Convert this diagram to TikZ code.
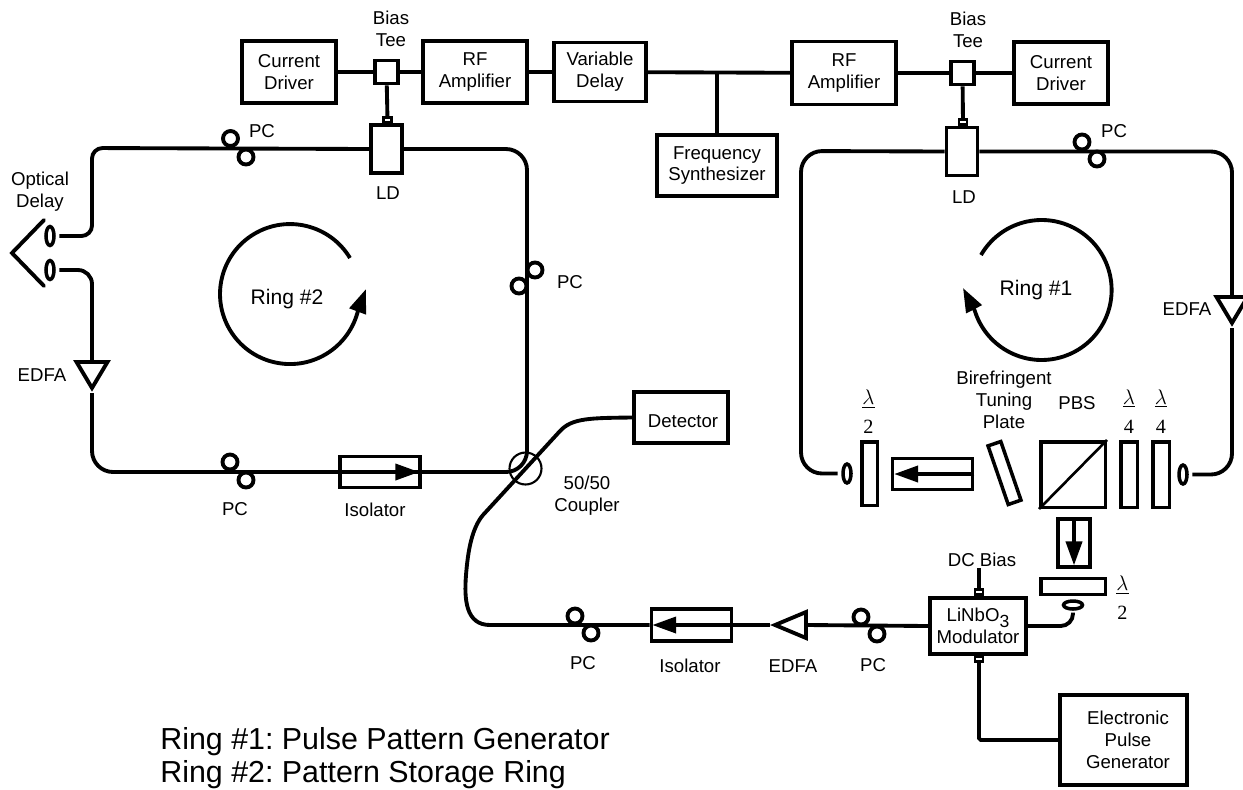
\documentclass[tikz,border=0pt]{standalone}
\usepackage{fontspec}
\setmainfont{Liberation Sans}
\newfontfamily\platefont{Liberation Serif}
\usetikzlibrary{arrows.meta, positioning, shapes.geometric}

\begin{document}
\begin{tikzpicture}[
  x=0.02cm, y=-0.02cm,
  blockbox/.style={draw, line width=2.2pt, inner sep=0pt, align=center, font=\fontsize{10.6}{12.4}\selectfont},
  plate/.style={draw, line width=2pt, inner sep=0pt},
  lab/.style={inner sep=0pt, align=center, font=\fontsize{10.6}{12.4}\selectfont},
  platelab/.style={inner sep=0pt, align=center, font=\platefont\fontsize{11.5}{16.5}\selectfont},
  ringlab/.style={inner sep=0pt, font=\fontsize{12}{14}\selectfont},
  pcloop/.style={draw, circle, line width=2.2pt, inner sep=0pt, minimum size=0.3cm},
  lensv/.style={draw, ellipse, line width=2pt, inner sep=0pt, minimum width=0.16cm, minimum height=0.38cm},
  lensh/.style={draw, ellipse, line width=2pt, inner sep=0pt, minimum width=0.38cm, minimum height=0.16cm},
  edfa/.style={draw, isosceles triangle, isosceles triangle stretches, line width=2.2pt, inner sep=0pt,
    minimum width=0.62cm, minimum height=0.52cm},
  edfaleft/.style={edfa, shape border rotate=180, minimum width=0.52cm, minimum height=0.62cm},
  tabbox/.style={draw, line width=1.6pt, inner sep=0pt, minimum width=0.16cm, minimum height=0.1cm},
  wire/.style={line width=2.2pt},
  fiber/.style={line width=2.2pt, rounded corners=12pt},
  beam/.style={line width=2.2pt, -{Triangle[length=0.48cm, width=0.32cm]}},
  ringarrow/.style={line width=2.2pt, -{Triangle[length=0.48cm, width=0.34cm]}},
]
\useasboundingbox (0,0) rectangle (1243,789);

% Electronics along the top
\node[blockbox, minimum width=1.88cm, minimum height=1.24cm] (driverA) at (289,72) {Current\\Driver};
\node[blockbox, minimum width=0.46cm, minimum height=0.46cm] (teeA) at (386.5,72) {};
\node[blockbox, minimum width=2.08cm, minimum height=1.24cm] (ampA) at (475,72) {RF\\Amplifier};
\node[blockbox, minimum width=1.84cm, minimum height=1.18cm] (delay) at (600,72) {Variable\\Delay};
\node[blockbox, minimum width=2.08cm, minimum height=1.26cm] (ampB) at (844,73) {RF\\Amplifier};
\node[blockbox, minimum width=0.46cm, minimum height=0.46cm] (teeB) at (962.5,73) {};
\node[blockbox, minimum width=1.88cm, minimum height=1.24cm] (driverB) at (1061,73) {Current\\Driver};
\node[blockbox, minimum width=2.4cm, minimum height=1.22cm] (synth) at (717,165.5) {Frequency\\Synthesizer};
\node[lab] (teeAlab) at (391,29) {Bias\\Tee};
\node[lab] (teeBlab) at (968,30) {Bias\\Tee};

\node[blockbox, minimum width=0.62cm, minimum height=0.96cm] (ldA) at (386.5,149) {};
\node[blockbox, minimum width=0.62cm, minimum height=0.96cm] (ldB) at (962,151.5) {};
\node[tabbox] (tabA) at (387.5,120) {};
\node[tabbox] (tabB) at (963,122) {};
\node[lab] (ldAlab) at (388,193) {LD};
\node[lab] (ldBlab) at (964,197) {LD};

\draw[wire] (driverA) -- (teeA);
\draw[wire] (teeA) -- (ampA);
\draw[wire] (ampA) -- (delay);
\draw[wire] (delay) -- (ampB);
\draw[wire] (ampB) -- (teeB);
\draw[wire] (teeB) -- (driverB);
\draw[wire] (synth.north) -- (synth.north |- delay.east);
\draw[wire] (teeA) -- (tabA);
\draw[wire] (teeB) -- (tabB);

% Ring #2
\node[lensv] (lensA) at (50,236) {};
\node[lensv] (lensB) at (50,270) {};
\coordinate (mirrorA) at (44,220);
\coordinate (mirrorB) at (12,253);
\coordinate (mirrorC) at (44,286);
\draw[wire, line cap=round] (mirrorA) -- (mirrorB) -- (mirrorC);
\node[lab] (delaylab) at (40,192) {Optical\\Delay};

\node[edfa, shape border rotate=-90, anchor=apex] (edfaA) at (92,393) {};
\node[lab] (edfaAlab) at (42,375) {EDFA};
\node[blockbox, minimum width=1.6cm, minimum height=0.62cm] (isoA) at (380,472) {};
\node[lab] (isoAlab) at (375,510) {Isolator};
\node[draw, circle, line width=1.2pt, inner sep=0pt, minimum size=0.64cm] (coupler) at (525.5,468.5) {};
\node[lab] (couplerlab) at (587,495.5) {50/50\\Coupler};

\node[pcloop] (pcA) at (230.5,138.5) {};
\node[pcloop] (pcB) at (246,157) {};
\node[lab] (pcABlab) at (262,131) {PC};
\node[pcloop] (pcC) at (535,270) {};
\node[pcloop] (pcD) at (519,286) {};
\node[lab] (pcCDlab) at (570,282) {PC};
\node[pcloop] (pcE) at (230,462) {};
\node[pcloop] (pcF) at (246,480) {};
\node[lab] (pcEFlab) at (235,509) {PC};

\coordinate (cornerA) at (92,148);
\coordinate (cornerB) at (527,472);
\draw[fiber, rounded corners=6pt, shorten <=2pt] (lensA.east) -| (cornerA) [rounded corners=13pt] -- (ldA.west);
\draw[fiber] (ldA.east) -| (cornerB) -- (isoA.east);
\draw[fiber, rounded corners=8pt, shorten <=2pt] (lensB.east) -| (edfaA.lower side);
\draw[fiber] (edfaA.apex) |- (isoA.east);
\draw[beam, shorten >=1.5pt] (isoA.west) -- (isoA.east);

\draw[ringarrow] (350,258) arc[start angle=31, end angle=347, radius=1.4cm] -- (366,289);
\node[ringlab] (ringBlab) at (287,299) {Ring \#2};

% Ring #1
\node[lensv] (lensC) at (847,473.5) {};
\node[lensv] (lensD) at (1183,474.5) {};
\node[plate, minimum width=0.31cm, minimum height=1.27cm] (halfA) at (869.5,473.5) {};
\node[blockbox, minimum width=1.6cm, minimum height=0.62cm] (isoB) at (932.5,474) {};
\node[plate, minimum width=0.27cm, minimum height=1.24cm, rotate=19] (tuning) at (1004.5,473) {};
\node[plate, minimum width=1.29cm, minimum height=1.31cm] (pbs) at (1073,474.5) {};
\draw[line width=1.5pt] (pbs.south west) -- (pbs.north east);
\node[plate, minimum width=0.33cm, minimum height=1.31cm] (quartA) at (1129,474.5) {};
\node[plate, minimum width=0.33cm, minimum height=1.31cm] (quartB) at (1161,474.5) {};
\node[blockbox, minimum width=0.64cm, minimum height=0.96cm] (isoC) at (1074,543) {};
\node[plate, minimum width=1.29cm, minimum height=0.32cm] (halfB) at (1073,586.5) {};
\node[lensh] (lensE) at (1073,605) {};

\node[platelab] (halfAlab) at (868.5,412) {\underline{$\lambda$}\\2};
\node[platelab] (quartAlab) at (1129,411.5) {\underline{$\lambda$}\\4};
\node[platelab] (quartBlab) at (1161,411.5) {\underline{$\lambda$}\\4};
\node[platelab] (halfBlab) at (1122.5,598) {\underline{$\lambda$}\\2};
\node[lab] (tuninglab) at (1004,400) {Birefringent\\Tuning\\Plate};
\node[lab] (pbslab) at (1077,403) {PBS};

\node[edfa, shape border rotate=-90, anchor=apex] (edfaB) at (1232,328) {};
\node[lab] (edfaBlab) at (1187,309) {EDFA};
\node[pcloop] (pcG) at (1082,142) {};
\node[pcloop] (pcH) at (1097,159) {};
\node[lab] (pcGHlab) at (1114,131) {PC};

\coordinate (cornerC) at (801,151);
\draw[fiber, shorten <=2pt] (lensC.west) -| (cornerC) -- (ldB.west);
\draw[fiber] (ldB.east) -| (edfaB.lower side);
\draw[fiber, shorten >=2pt] (edfaB.apex) |- (lensD.east);
\draw[beam, shorten >=2pt] (isoB.east) -- (isoB.west);
\draw[beam, shorten >=2pt] (isoC.north) -- (isoC.south);

\draw[ringarrow] (981,255) arc[start angle=150, end angle=-163, radius=1.4cm] -- (963,288);
\node[ringlab] (ringAlab) at (1036,290) {Ring \#1};

% Modulator and output line
\node[blockbox, minimum width=1.93cm, minimum height=1.11cm] (mod) at (978,626) {LiNbO\raisebox{-3pt}{\fontsize{10}{12}\selectfont 3}\\Modulator};
\node[tabbox] (tabDC) at (979,592) {};
\node[tabbox] (tabPulse) at (979,659) {};
\node[lab] (dclab) at (982,560) {DC Bias};
\coordinate (dcin) at (979,568);
\node[blockbox, minimum width=2.55cm, minimum height=1.81cm] (pulse) at (1123.5,740) {};
\node[lab] (pulselab) at (1128,740) {Electronic\\Pulse\\Generator};
\node[blockbox, minimum width=1.89cm, minimum height=1.03cm] (det) at (681,417.5) {};
\node[lab] (detlab) at (683,421) {Detector};

\node[edfaleft, anchor=apex] (edfaC) at (770,625) {};
\node[lab] (edfaClab) at (793,666) {EDFA};
\node[blockbox, minimum width=1.6cm, minimum height=0.64cm] (isoD) at (691.5,625) {};
\node[lab] (isoDlab) at (690,666) {Isolator};
\node[pcloop] (pcI) at (861,617) {};
\node[pcloop] (pcJ) at (877,634) {};
\node[lab] (pcIJlab) at (873,665) {PC};
\node[pcloop] (pcK) at (575,616) {};
\node[pcloop] (pcL) at (591,633) {};
\node[lab] (pcKLlab) at (583,663) {PC};

\draw[wire] (dcin) -- (tabDC);
\draw[wire, rounded corners=1pt] (tabPulse) |- (pulse.west);
\draw[fiber, rounded corners=7pt, shorten >=1pt] (mod.east) -| (lensE.south);
\draw[wire] (mod.west) -- (edfaC.lower side);
\draw[wire] (edfaC.apex) -- (isoD.east);
\draw[beam, shorten >=1.5pt] (isoD.east) -- (isoD.west);
\draw[wire] (isoD.west) -- (490,625) .. controls (466,625) and (464,600) .. (466,575) .. controls (468,550) and (472,528) .. (483,515) -- (560,431) .. controls (572,418) and (590,418) .. (det.west);

% Legend
\node[inner sep=0pt, anchor=north west, align=left, font=\fontsize{17.3}{18.6}\selectfont] (legend) at (160,727) {\frenchspacing Ring \#1: Pulse Pattern Generator\\\frenchspacing Ring \#2: Pattern Storage Ring};

\end{tikzpicture}
\end{document}
